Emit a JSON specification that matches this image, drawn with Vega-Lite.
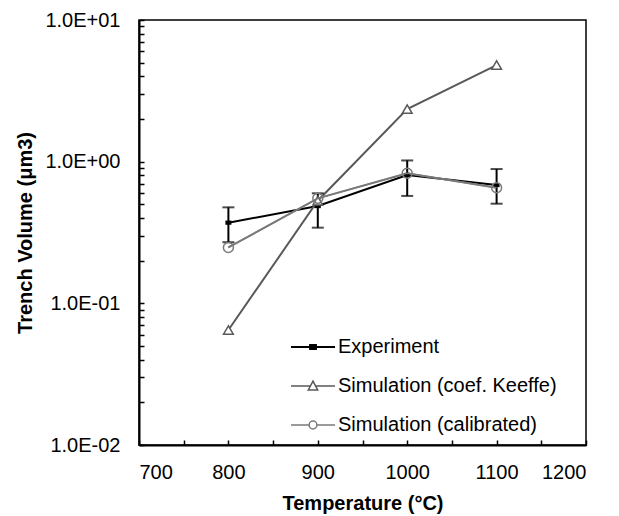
{
  "$schema": "https://vega.github.io/schema/vega-lite/v6.json",
  "width": 447,
  "height": 425,
  "autosize": {"type": "none"},
  "padding": {"left": 139, "top": 20, "right": 33, "bottom": 71},
  "background": "white",
  "config": {
    "view": {"stroke": "#000000", "strokeWidth": 1.5},
    "font": "Liberation Sans",
    "axis": {"grid": false}
  },
  "data": {
    "values": [
      {"series": "Experiment", "T": 800, "V": 0.371, "lo": 0.27, "hi": 0.476},
      {"series": "Experiment", "T": 900, "V": 0.486, "lo": 0.342, "hi": 0.598},
      {"series": "Experiment", "T": 1000, "V": 0.805, "lo": 0.573, "hi": 1.02},
      {"series": "Experiment", "T": 1100, "V": 0.684, "lo": 0.505, "hi": 0.887},
      {"series": "Simulation (coef. Keeffe)", "T": 800, "V": 0.0648},
      {"series": "Simulation (coef. Keeffe)", "T": 900, "V": 0.53},
      {"series": "Simulation (coef. Keeffe)", "T": 1000, "V": 2.35},
      {"series": "Simulation (coef. Keeffe)", "T": 1100, "V": 4.81},
      {"series": "Simulation (calibrated)", "T": 800, "V": 0.248},
      {"series": "Simulation (calibrated)", "T": 900, "V": 0.551},
      {"series": "Simulation (calibrated)", "T": 1000, "V": 0.828},
      {"series": "Simulation (calibrated)", "T": 1100, "V": 0.655}
    ]
  },
  "resolve": {"axis": {"x": "independent", "y": "independent"}},
  "layer": [
    {
      "mark": {"type": "line", "strokeWidth": 2},
      "encoding": {
        "x": {
          "field": "T", "type": "quantitative",
          "scale": {"domain": [700, 1200], "nice": false, "zero": false},
          "axis": {
            "title": "Temperature (°C)",
            "values": [700, 800, 900, 1000, 1100, 1200],
            "format": "d",
            "ticks": false,
            "domainColor": "#000000", "domainWidth": 2,
            "labelFontSize": 20, "labelColor": "#000000", "labelFont": "Liberation Sans",
            "labelPadding": 17,
            "titleFontSize": 20, "titleFontWeight": "bold", "titleColor": "#000000", "titleFont": "Liberation Sans",
            "titleX": 223.5, "titleY": 58, "titleBaseline": "middle"
          }
        },
        "y": {
          "field": "V", "type": "quantitative",
          "scale": {"type": "log", "domain": [0.01, 10], "nice": false},
          "axis": {
            "title": "Trench Volume (μm3)",
            "values": [0.01, 0.1, 1, 10],
            "labelExpr": "'1.0E' + (round(log(datum.value)/LN10) < 0 ? '-' : '+') + '0' + abs(round(log(datum.value)/LN10))",
            "ticks": false,
            "domainColor": "#000000", "domainWidth": 2,
            "labelFontSize": 20, "labelColor": "#000000", "labelFont": "Liberation Sans",
            "labelPadding": 19,
            "titleFontSize": 20, "titleFontWeight": "bold", "titleColor": "#000000", "titleFont": "Liberation Sans",
            "titleX": -114, "titleY": 212.5, "titleBaseline": "middle", "titleAngle": -90
          }
        },
        "detail": {"field": "series"},
        "color": {
          "field": "series", "type": "nominal",
          "scale": {"domain": ["Experiment", "Simulation (coef. Keeffe)", "Simulation (calibrated)"], "range": ["#000000", "#595959", "#7a7a7a"]},
          "legend": {
            "orient": "none", "legendX": 164, "legendY": 317,
            "title": null, "padding": 0, "rowPadding": 19,
            "symbolStrokeWidth": 1.5, "labelLimit": 0,
            "labelFontSize": 20, "labelColor": "#000000", "labelFont": "Liberation Sans", "labelOffset": 15,
            "encode": {
              "symbols": {
                "update": {
                  "size": {"value": 1521},
                  "shape": {"signal": "datum.value == 'Experiment' ? 'M-1.13,0H1.13M-0.15,-0.1H0.15V0.1H-0.15Z' : datum.value == 'Simulation (coef. Keeffe)' ? 'M-1.13,0H-0.133M0.133,0H1.13M0,-0.25L0.24,0.2H-0.24Z' : 'M-1.13,0H-0.2M0.2,0H1.13M0.2,0A0.2,0.2,0,1,1,-0.2,0A0.2,0.2,0,1,1,0.2,0Z'"},
                  "fill": {"signal": "datum.value == 'Experiment' ? '#000000' : '#ffffff'"},
                  "stroke": {"signal": "datum.value == 'Experiment' ? '#000000' : datum.value == 'Simulation (coef. Keeffe)' ? '#595959' : '#7a7a7a'"},
                  "strokeWidth": {"signal": "datum.value == 'Experiment' ? 2 : 1.5"},
                  "opacity": {"value": 1},
                  "fillOpacity": {"value": 1}
                }
              }
            }
          }
        }
      }
    },
    {
      "mark": {"type": "point", "opacity": 0},
      "encoding": {
        "x": {
          "field": "T", "type": "quantitative",
          "axis": {
            "orient": "top", "offset": -425, "title": null, "labels": false, "domain": false,
            "values": [700, 750, 800, 850, 900, 950, 1000, 1050, 1100, 1150, 1200],
            "ticks": true, "tickSize": 5, "tickWidth": 1.5, "tickColor": "#000000"
          }
        },
        "y": {
          "field": "V", "type": "quantitative",
          "axis": {
            "orient": "right", "offset": -447, "title": null, "labels": false, "domain": false,
            "values": [0.01, 0.02, 0.03, 0.04, 0.05, 0.06, 0.07, 0.08, 0.09, 0.1, 0.2, 0.3, 0.4, 0.5, 0.6, 0.7, 0.8, 0.9, 1, 2, 3, 4, 5, 6, 7, 8, 9, 10],
            "ticks": true, "tickSize": 5, "tickWidth": 1.5, "tickColor": "#000000"
          }
        }
      }
    },
    {
      "transform": [{"filter": "datum.series == 'Experiment'"}],
      "mark": {"type": "rule", "color": "#000000", "strokeWidth": 2},
      "encoding": {
        "x": {"field": "T", "type": "quantitative", "axis": null},
        "y": {"field": "lo", "type": "quantitative", "axis": null},
        "y2": {"field": "hi"}
      }
    },
    {
      "transform": [{"filter": "datum.series == 'Experiment'"}],
      "mark": {"type": "tick", "orient": "horizontal", "color": "#000000", "size": 12, "thickness": 2},
      "encoding": {
        "x": {"field": "T", "type": "quantitative", "axis": null},
        "y": {"field": "lo", "type": "quantitative", "axis": null}
      }
    },
    {
      "transform": [{"filter": "datum.series == 'Experiment'"}],
      "mark": {"type": "tick", "orient": "horizontal", "color": "#000000", "size": 12, "thickness": 2},
      "encoding": {
        "x": {"field": "T", "type": "quantitative", "axis": null},
        "y": {"field": "hi", "type": "quantitative", "axis": null}
      }
    },
    {
      "transform": [{"filter": "datum.series == 'Experiment'"}],
      "mark": {"type": "point", "shape": "M-1,-0.7H1V0.7H-1Z", "size": 36, "filled": true, "color": "#000000", "opacity": 1},
      "encoding": {
        "x": {"field": "T", "type": "quantitative", "axis": null},
        "y": {"field": "V", "type": "quantitative", "axis": null}
      }
    },
    {
      "transform": [{"filter": "datum.series == 'Simulation (coef. Keeffe)'"}],
      "mark": {"type": "point", "shape": "triangle-up", "size": 95, "filled": false, "fill": "#ffffff", "fillOpacity": 1, "stroke": "#595959", "strokeWidth": 1.5, "opacity": 1},
      "encoding": {
        "x": {"field": "T", "type": "quantitative", "axis": null},
        "y": {"field": "V", "type": "quantitative", "axis": null}
      }
    },
    {
      "transform": [{"filter": "datum.series == 'Simulation (calibrated)'"}],
      "mark": {"type": "line", "strokeWidth": 1.5, "color": "#7a7a7a"},
      "encoding": {
        "x": {"field": "T", "type": "quantitative", "axis": null},
        "y": {"field": "V", "type": "quantitative", "axis": null}
      }
    },
    {
      "transform": [{"filter": "datum.series == 'Simulation (calibrated)'"}],
      "mark": {"type": "point", "shape": "circle", "size": 100, "filled": false, "fill": "#ffffff", "fillOpacity": 0, "stroke": "#7a7a7a", "strokeWidth": 1.5, "opacity": 1},
      "encoding": {
        "x": {"field": "T", "type": "quantitative", "axis": null},
        "y": {"field": "V", "type": "quantitative", "axis": null}
      }
    }
  ]
}
